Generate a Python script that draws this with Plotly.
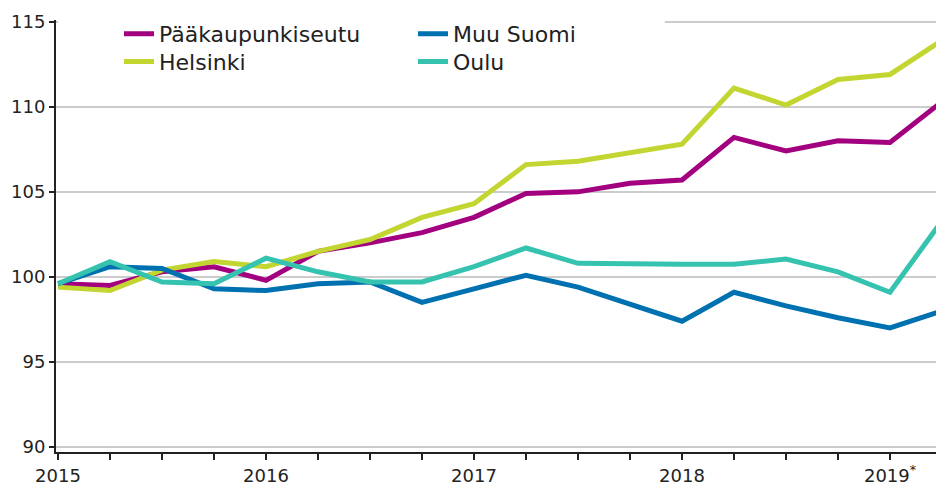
import plotly.graph_objects as go

quarters = ["2015Q1","2015Q2","2015Q3","2015Q4","2016Q1","2016Q2","2016Q3","2016Q4",
            "2017Q1","2017Q2","2017Q3","2017Q4","2018Q1","2018Q2","2018Q3","2018Q4",
            "2019Q1","2019Q2"]
year_positions = [0, 4, 8, 12, 16]
year_labels = ["2015", "2016", "2017", "2018", "2019<sup>*</sup>"]

paakaupunkiseutu = [99.6, 99.5, 100.3, 100.6, 99.8, 101.5, 102.0, 102.6, 103.5, 104.9, 105.0, 105.5,
                    105.7, 108.2, 107.4, 108.0, 107.9, 110.3]
helsinki = [99.4, 99.2, 100.4, 100.9, 100.6, 101.5, 102.2, 103.5, 104.3, 106.6, 106.8, 107.3,
            107.8, 111.1, 110.1, 111.6, 111.9, 113.9]
muu_suomi = [99.6, 100.6, 100.5, 99.3, 99.2, 99.6, 99.7, 98.5, 99.3, 100.1, 99.4, 98.4,
             97.4, 99.1, 98.3, 97.6, 97.0, 98.0]
oulu = [99.6, 100.9, 99.7, 99.6, 101.1, 100.3, 99.7, 99.7, 100.6, 101.7, 100.8, 100.75,
        100.75, 100.75, 101.05, 100.3, 99.1, 103.3]

x = list(range(len(quarters)))

series = [
    ("Pääkaupunkiseutu", paakaupunkiseutu, "#A2007E", "legend"),
    ("Helsinki", helsinki, "#C2D530", "legend2"),
    ("Muu Suomi", muu_suomi, "#0071B0", "legend"),
    ("Oulu", oulu, "#35C3B0", "legend2"),
]

fig = go.Figure()
for name, vals, color, leg in series:
    fig.add_trace(go.Scatter(
        x=x, y=vals, name=name, mode="lines",
        line=dict(color=color, width=5),
        customdata=quarters,
        hovertemplate="%{customdata}: %{y}<extra>" + name + "</extra>",
        legend=leg,
    ))

font = dict(family="DejaVu Sans", size=18, color="#222222")
legfont = dict(family="DejaVu Sans", size=22, color="#222222")

fig.update_layout(
    width=936, height=486,
    margin=dict(l=56, r=0, t=20, b=32),
    paper_bgcolor="white", plot_bgcolor="white",
    font=font,
    showlegend=True,
    legend=dict(orientation="h", xref="paper", yref="paper",
                x=(119 - 56) / 880, y=(454 - 34) / 434, xanchor="left", yanchor="middle",
                entrywidth=249, font=legfont,
                bgcolor="rgba(255,255,255,0)", tracegroupgap=0),
    legend2=dict(orientation="h", xref="paper", yref="paper",
                 x=(119 - 56) / 880, y=(454 - 62) / 434, xanchor="left", yanchor="middle",
                 entrywidth=249, font=legfont,
                 bgcolor="rgba(255,255,255,0)", tracegroupgap=0),
    xaxis=dict(
        range=[-0.0385, 16.885],
        tickvals=year_positions,
        ticktext=year_labels,
        ticks="outside", ticklen=6, tickwidth=1.5, tickcolor="#222222",
        minor=dict(tickvals=x, ticks="outside", ticklen=6, tickwidth=1.5,
                   tickcolor="#222222", showgrid=False),
        showline=True, linecolor="#222222", linewidth=2,
        showgrid=False, zeroline=False,
        tickfont=font,
    ),
    yaxis=dict(
        range=[89.71, 115.1],
        tickvals=[90, 95, 100, 105, 110, 115],
        ticks="outside", ticklen=5, tickwidth=1.5, tickcolor="#222222",
        showline=True, linecolor="#222222", linewidth=2,
        showgrid=True, gridcolor="#cccccc", gridwidth=1.5,
        zeroline=False, tickfont=font,
    ),
    shapes=[dict(type="rect", xref="x", yref="y", x0=0, x1=11.67, y0=114.8, y1=115.2,
                 fillcolor="white", line=dict(width=0), layer="above")],
)

fig.write_html("out.html")
